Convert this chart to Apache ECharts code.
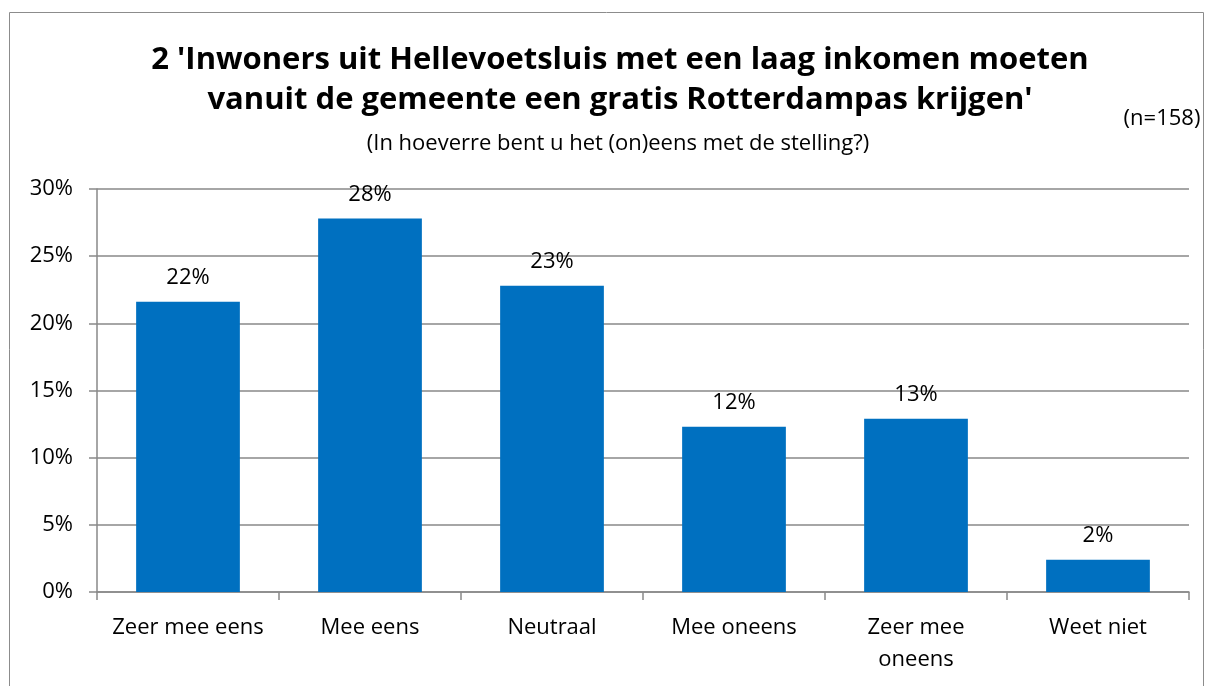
<!DOCTYPE html>
<html>
<head>
<meta charset="utf-8">
<script src="https://cdn.jsdelivr.net/npm/echarts@6/dist/echarts.min.js"></script>
<style>
  body { margin: 0; padding: 0; background: #fff; }
  #main { width: 1205px; height: 686px; }
</style>
</head>
<body>
<div id="main"></div>
<script>
// categories and percentages
const categories = ['Zeer mee eens', 'Mee eens', 'Neutraal', 'Mee oneens', 'Zeer mee\noneens', 'Weet niet']
const values = [21.6, 27.8, 22.8, 12.3, 12.9, 2.4]
const yTicks = [0, 5, 10, 15, 20, 25, 30]

const font = '"Open Sans", "Liberation Sans", sans-serif'
const chart = echarts.init(document.getElementById('main'))

chart.setOption({
  backgroundColor: '#fff',
  animation: false,
  textStyle: { fontFamily: font },
  title: [{
    text: "2 'Inwoners uit Hellevoetsluis met een laag inkomen moeten\nvanuit de gemeente een gratis Rotterdampas krijgen'",
    left: 615,
    top: 35,
    textAlign: 'center',
    textStyle: { fontSize: 31, fontWeight: 'bold', color: '#000', lineHeight: 40, fontFamily: font }
  }, {
    text: '(In hoeverre bent u het (on)eens met de stelling?)',
    left: 613,
    top: 128,
    textAlign: 'center',
    textStyle: { fontSize: 22, fontWeight: 'normal', color: '#000', fontFamily: font }
  }, {
    text: '(n=158)',
    left: 1157,
    top: 103,
    textAlign: 'center',
    textStyle: { fontSize: 22, fontWeight: 'normal', color: '#000', fontFamily: font }
  }],
  graphic: [{
    type: 'rect',
    shape: { x: 9.5, y: 12.5, width: 1194, height: 690 },
    style: { fill: 'none', stroke: '#8c8c8c', lineWidth: 1 }
  }],
  grid: { left: 97, right: 16, top: 189, bottom: 94 },
  xAxis: {
    type: 'category',
    data: categories,
    axisLine: { lineStyle: { color: '#898989', width: 1.5 } },
    axisTick: { show: true, length: 8, alignWithLabel: false, lineStyle: { color: '#898989', width: 1.5 } },
    axisLabel: { color: '#000', fontSize: 22, margin: 20, lineHeight: 32, interval: 0, fontFamily: font }
  },
  yAxis: {
    type: 'value',
    min: 0,
    max: 30,
    interval: 5,
    axisLine: { show: true, lineStyle: { color: '#898989', width: 1.5 } },
    axisTick: { show: true, length: 8, lineStyle: { color: '#898989', width: 1.5 } },
    splitLine: { show: true, lineStyle: { color: '#898989', width: 1.5 } },
    axisLabel: {
      color: '#000', fontSize: 22, margin: 24, fontFamily: font,
      customValues: yTicks,
      formatter: function (v) { return v + '%' }
    }
  },
  series: [{
    type: 'bar',
    data: values,
    barCategoryGap: '43%',
    itemStyle: { color: '#0070c0' },
    label: {
      show: true,
      position: 'top',
      distance: 13,
      color: '#000',
      fontSize: 22,
      fontFamily: font,
      formatter: function (p) { return Math.round(p.value) + '%' }
    }
  }]
})
</script>
</body>
</html>
